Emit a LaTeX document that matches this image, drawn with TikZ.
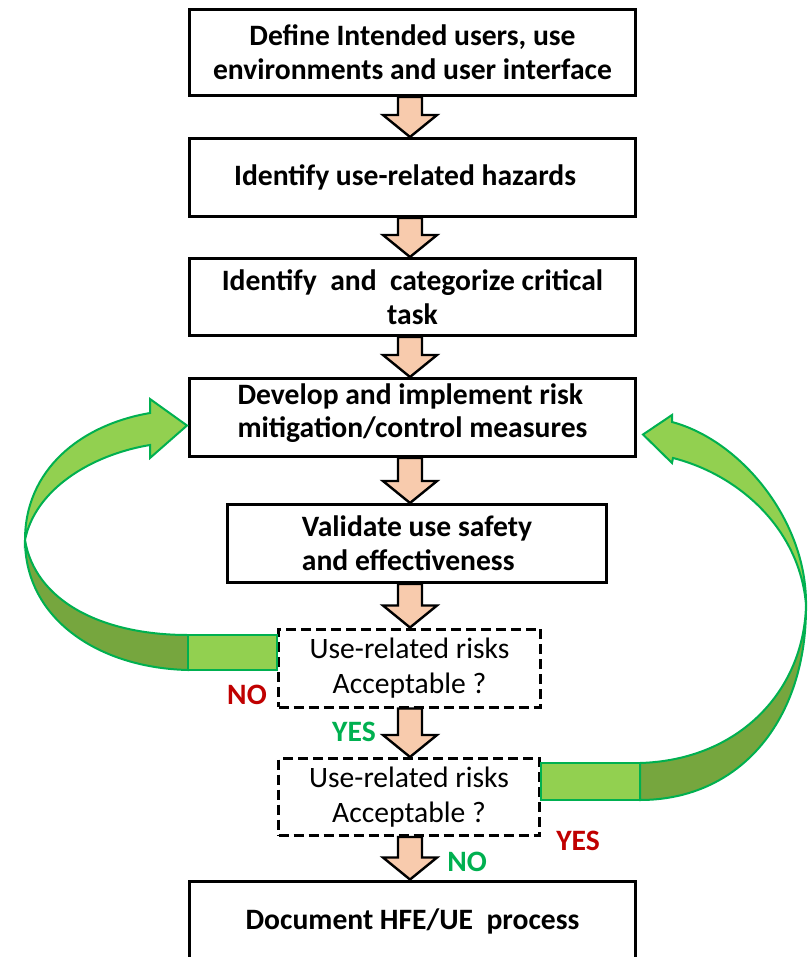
\documentclass[tikz,border=0pt]{standalone}
\usepackage{fontspec}
\setmainfont{Carlito}
\usepackage{xcolor}
\usepackage{tikz}
\usetikzlibrary{calc,positioning}
\definecolor{peach}{RGB}{248,203,173}
\definecolor{ltgreen}{RGB}{146,208,80}
\definecolor{dkgreen}{RGB}{118,166,62}
\definecolor{edgegreen}{RGB}{0,176,80}
\definecolor{nored}{RGB}{192,0,0}
\tikzset{
  stepbox/.style={rectangle,draw=black,line width=1.5pt,minimum width=223pt,minimum height=39pt,inner sep=2pt,align=center,font=\fontsize{14.8}{16.8}\selectfont\bfseries},
  chkbox/.style={rectangle,draw=black,line width=1.5pt,dash pattern=on 5pt off 2.5pt,minimum width=131pt,minimum height=39pt,inner sep=2pt,align=center,font=\fontsize{14.8}{17.5}\selectfont},
  flowarr/.style={draw=black,fill=peach,line width=1.2pt,line join=miter},
  ribbonlt/.style={draw=edgegreen,fill=ltgreen,line width=1pt},
  ribbondk/.style={draw=edgegreen,fill=dkgreen,line width=1pt},
  greenlab/.style={font=\fontsize{14.8}{16}\selectfont\bfseries,text=edgegreen},
  redlab/.style={font=\fontsize{14.8}{16}\selectfont\bfseries,text=nored}
}

\begin{document}
\begin{tikzpicture}[x=0.5pt,y=-0.5pt]
  \useasboundingbox (0,0) rectangle (808,957);
  \coordinate (ax) at (410,0);
  % process steps
  \node[stepbox,minimum height=43pt] (def) at (412.5,52.5) {Define Intended users, use\\environments and user interface};
  \node[stepbox] (haz) at (412.5,177.5) {Identify use-related hazards\,\,\,};
  \node[stepbox,minimum height=38.5pt] (cat) at (412.5,297) {Identify~ and~ categorize critical\\task};
  \node[stepbox,align=left,text depth=7pt] (dev) at (412.5,417.5) {Develop and implement risk\\mitigation/control measures};
  \node[stepbox,align=left,minimum width=189.5pt] (val) at (417,543.5) {Validate use safety\\and effectiveness};
  \node[chkbox] (chkA) at (409.5,668) {Use-related risks\\Acceptable ?};
  \node[chkbox,minimum width=130.5pt,minimum height=38.5pt] (chkB) at (409,797) {Use-related risks\\Acceptable ?};
  \node[stepbox,minimum height=40pt] (doc) at (412.5,921) {Document HFE/UE~ process};
  % block arrows
  \foreach \a/\b in {def/haz,haz/cat,cat/dev,dev/val,val/chkA,chkA/chkB,chkB/doc}
    \draw[flowarr] ($(\a.south -| ax)+(-12,0)$) -- ($(\b.north -| ax)+(-12,-22)$)
      -- ($(\b.north -| ax)+(-27,-22)$) -- (\b.north -| ax)
      -- ($(\b.north -| ax)+(27,-22)$) -- ($(\b.north -| ax)+(12,-22)$)
      -- ($(\a.south -| ax)+(12,0)$) -- cycle;
  % left loop back
  \coordinate (lt) at ($(dev.west)+(-1,8)$);
  \filldraw[ribbondk] (25,540) .. controls (25,620) and (100,668) .. (188,670)
    -- (188,635) .. controls (100,635) and (35,600) .. (25,540) -- cycle;
  \filldraw[ribbonlt] (25,540) .. controls (25,470) and (80,425) .. (150,413)
    -- (150,399) -- (lt) -- (150,458) -- (150,445)
    .. controls (90,455) and (35,490) .. (25,540) -- cycle;
  \filldraw[ribbonlt] (188,635) rectangle (chkA.west |- 0,670);
  % right loop back
  \coordinate (rt) at ($(dev.east)+(6,17)$);
  \filldraw[ribbondk] (806,605) .. controls (807,720) and (740,800) .. (640,800)
    -- (640,763) .. controls (740,760) and (804,690) .. (806,605) -- cycle;
  \filldraw[ribbonlt] (806,605) .. controls (807,520) and (740,440) .. (672,422)
    -- (672,415) -- (rt) -- (672,463) -- (673,458)
    .. controls (740,475) and (800,530) .. (806,605) -- cycle;
  \filldraw[ribbonlt] (chkB.east |- 0,763) rectangle (640,800);
  % decisions
  \node[redlab] (noA) at (247,695) {NO};
  \node[greenlab] (yesA) at (354,732) {YES};
  \node[greenlab] (noB) at (467,862) {NO};
  \node[redlab] (yesB) at (578,841) {YES};
\end{tikzpicture}
\end{document}
